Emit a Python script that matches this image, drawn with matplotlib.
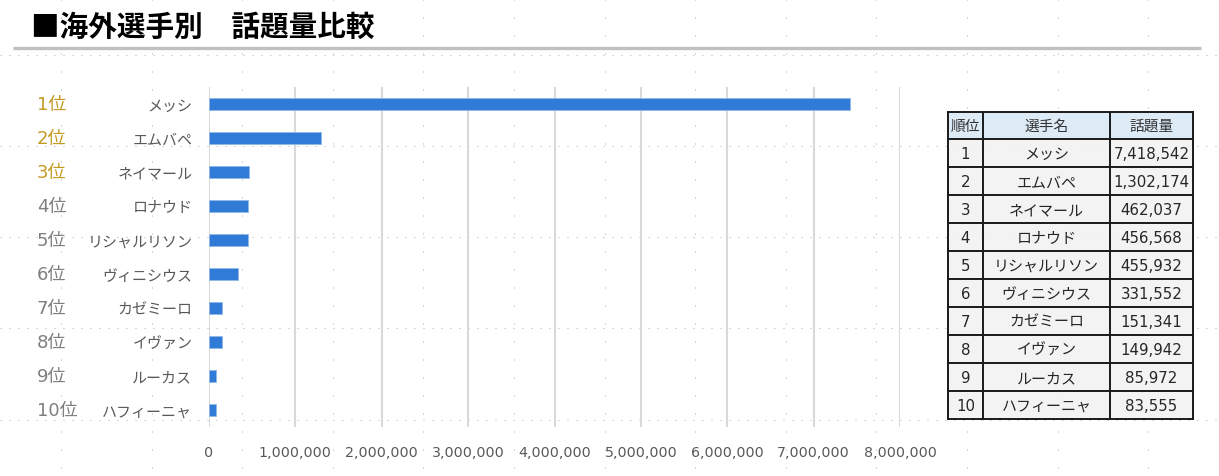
import matplotlib
matplotlib.use("Agg")
import matplotlib.pyplot as plt
from matplotlib.patches import Rectangle
from matplotlib.ticker import FuncFormatter
import numpy as np

plt.rcParams['font.family'] = ['Noto Sans CJK JP', 'DejaVu Sans']

# data
title = "■海外選手別　話題量比較"
ranks = ["1位", "2位", "3位", "4位", "5位", "6位", "7位", "8位", "9位", "10位"]
players = ["メッシ", "エムバペ", "ネイマール", "ロナウド", "リシャルリソン",
           "ヴィニシウス", "カゼミーロ", "イヴァン", "ルーカス", "ハフィーニャ"]
mentions = [7418542, 1302174, 462037, 456568, 455932,
            331552, 151341, 149942, 85972, 83555]
table_header = ["順位", "選手名", "話題量"]
x_ticks = [0, 1000000, 2000000, 3000000, 4000000,
           5000000, 6000000, 7000000, 8000000]

W, H = 1219, 477
fig = plt.figure(figsize=(W / 100, H / 100), dpi=100)

# background canvas in pixel coords (title, rule, page dots, table)
bg = fig.add_axes([0, 0, 1, 1], zorder=0)
bg.set_xlim(0, W)
bg.set_ylim(H, 0)
bg.axis("off")

dot_col = "#b0b0b0"
for y in [56, 147, 238, 329, 421]:
    bg.plot([0, W], [y, y], color=dot_col, lw=0.72, ls=(0, (1, 8)), zorder=0)
for x in np.arange(61, W, 90.6):
    bg.plot([x, x], [0, H], color=dot_col, lw=0.72, ls=(0, (1, 17)), zorder=0)

bg.text(31, 27, title, fontsize=20.6, fontweight="bold", color="black",
        va="center", ha="left")
bg.plot([13, 1201], [49, 49], color="#c0c0c0", lw=2.4, solid_capstyle="butt")

# table
col_x = [948, 983, 1110, 1193]
head_top, head_h, row_h = 113, 27, 28
rows = [[str(i + 1), players[i], f"{mentions[i]:,}"] for i in range(len(players))]
for c in range(3):
    bg.add_patch(Rectangle((col_x[c], head_top), col_x[c + 1] - col_x[c], head_h,
                           facecolor="#ddebf7", edgecolor="none", zorder=2))
    bg.text((col_x[c] + col_x[c + 1]) / 2, head_top + head_h / 2, table_header[c],
            ha="center", va="center", fontsize=10.6, color="#333333", zorder=4)
for r, row in enumerate(rows):
    top = head_top + head_h + r * row_h
    for c in range(3):
        bg.add_patch(Rectangle((col_x[c], top), col_x[c + 1] - col_x[c], row_h,
                               facecolor="#f2f2f2", edgecolor="none", alpha=0.92, zorder=2))
        fam = ['Noto Sans CJK JP', 'DejaVu Sans'] if c == 1 else ['DejaVu Sans']
        bg.text((col_x[c] + col_x[c + 1]) / 2, top + row_h / 2 + 1, row[c],
                ha="center", va="center", fontsize=10.8,
                color="#262626", family=fam, zorder=4)
bottom = head_top + head_h + len(rows) * row_h
lines_y = [head_top, head_top + head_h] + [head_top + head_h + (r + 1) * row_h for r in range(len(rows))]
for y in lines_y:
    bg.plot([col_x[0], col_x[-1]], [y, y], color="#1a1a1a", lw=1.4, zorder=3)
for x in col_x:
    bg.plot([x, x], [head_top, bottom], color="#1a1a1a", lw=1.4, zorder=3)

# bar chart
x0, x1 = 209, 900
y_top, y_bot = 88, 428
ax = fig.add_axes([x0 / W, 1 - y_bot / H, (x1 - x0) / W, (y_bot - y_top) / H], zorder=1)
ax.patch.set_alpha(0)
ypos = np.arange(len(players))
ax.barh(ypos, mentions, height=0.36, color="#2f7bd6", edgecolor="#8fb8ea",
        linewidth=0.6, zorder=3)
ax.set_xlim(0, 8000000)
ax.set_ylim(len(players) - 0.5, -0.5)
ax.set_xticks(x_ticks)
ax.xaxis.set_major_formatter(FuncFormatter(lambda v, p: f"{int(v):,}"))
ax.grid(axis="x", color="#d9d9d9", lw=1.5, zorder=0)
for s in ax.spines.values():
    s.set_visible(False)
ax.tick_params(axis="x", length=0, pad=13, labelsize=10.3, labelcolor="#595959")
ax.tick_params(axis="y", length=0, pad=12)
for lab in ax.get_xticklabels():
    lab.set_family("DejaVu Sans")
ax.set_yticks(ypos)
ax.set_yticklabels(players, fontsize=10.8, color="#595959")

rank_x = (37 - x0) / (x1 - x0)
for i, r in enumerate(ranks):
    col = "#c49a22" if i < 3 else "#7f7f7f"
    ax.text(rank_x, i, r, transform=ax.get_yaxis_transform(), ha="left", va="center",
            fontsize=13, color=col, family=['DejaVu Sans', 'Noto Sans CJK JP'])

fig.savefig("out.png", dpi=100)
